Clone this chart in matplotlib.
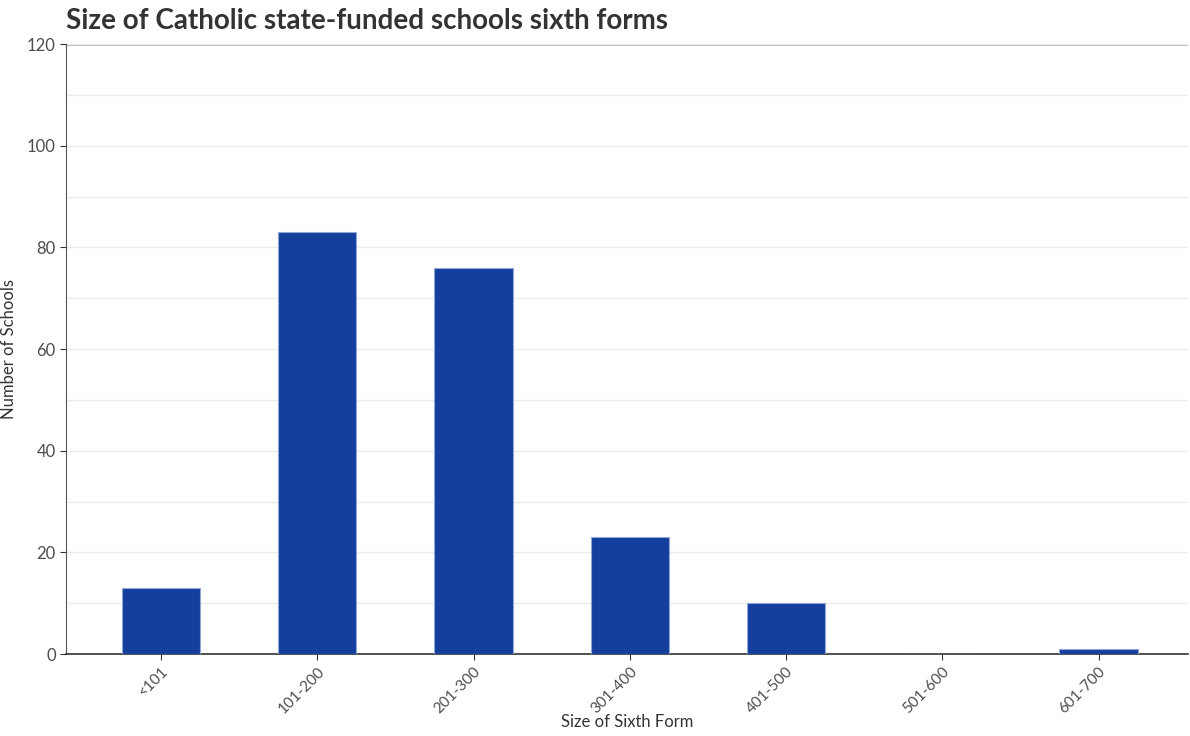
import matplotlib
matplotlib.use("Agg")
import matplotlib.pyplot as plt
from matplotlib.ticker import MultipleLocator

categories = ["<101", "101-200", "201-300", "301-400", "401-500", "501-600", "601-700"]
schools = [13, 83, 76, 23, 10, 0, 1]

plt.rcParams['font.family'] = ['Lato', 'DejaVu Sans']

fig = plt.figure(figsize=(11.9, 7.36), dpi=100)
ax = fig.add_axes([0.0555, 0.1114, 0.9425, 0.8286])

x = list(range(len(categories)))
ax.bar(x, schools, width=0.5, color="#143F9C", edgecolor="#8FA6D6", linewidth=0.8, zorder=3)

ax.set_xlim(-0.608, 6.57)
ax.set_ylim(0, 120)
ax.yaxis.set_major_locator(MultipleLocator(20))
ax.yaxis.set_minor_locator(MultipleLocator(10))
ax.grid(axis="y", which="both", color="#EBEBEB", linewidth=1.0, zorder=0)
ax.axhline(120, color="#A0A0A0", linewidth=1.8, zorder=1)

ax.set_xticks(x)
ax.set_xticklabels(categories, rotation=45, ha="right", rotation_mode="anchor", color="#4D4D4D", fontsize=11)
ax.tick_params(axis="y", labelsize=12, labelcolor="#4D4D4D", color="#333333", length=4)
ax.tick_params(axis="y", which="minor", length=0)
ax.tick_params(axis="x", color="#333333", length=4)

for s in ["top", "right"]:
    ax.spines[s].set_visible(False)
ax.spines["left"].set_color("#555555")
ax.spines["bottom"].set_color("#333333")
ax.spines["bottom"].set_linewidth(1.2)

ax.set_xlabel("Size of Sixth Form", fontsize=12, color="#333333")
ax.xaxis.set_label_coords(0.5, -0.098)
ax.set_ylabel("Number of Schools", fontsize=12, color="#333333")
ax.yaxis.set_label_coords(-0.0437, 0.5)

fig.text(0.0555, 0.972, "Size of Catholic state-funded schools sixth forms", fontsize=20,
         fontweight="bold", color="#333333", ha="left", va="center")

fig.savefig("out.png", dpi=100)
